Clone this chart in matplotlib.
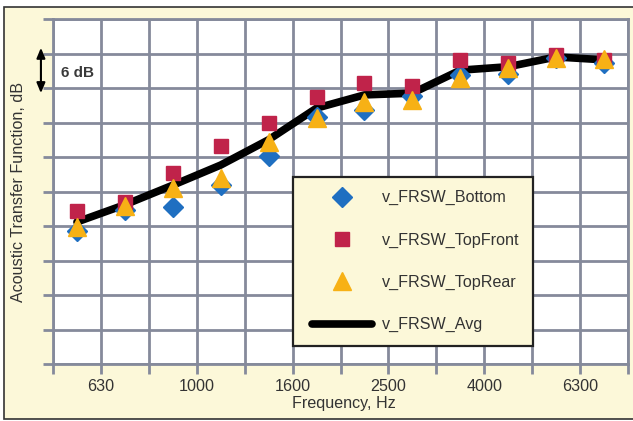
import numpy as np
import matplotlib
matplotlib.use("Agg")
import matplotlib.pyplot as plt
from matplotlib.patches import Rectangle
from matplotlib.lines import Line2D
from matplotlib.legend_handler import HandlerLine2D

# =====================================
# Data (dB, one value per 1/3-octave band)
# =====================================

band_labels = ["630", "1000", "1600", "2500", "4000", "6300"]

frsw_bottom = [23.1, 26.8, 27.3, 31.1, 36.2, 43.0, 44.2, 46.6, 50.3, 50.4, 53.2, 52.3]
frsw_topfront = [26.6, 28.2, 33.2, 37.9, 41.9, 46.4, 48.9, 48.3, 52.9, 52.3, 53.7, 52.9]
frsw_toprear = [23.8, 27.5, 30.6, 32.3, 38.6, 42.8, 45.6, 45.9, 49.7, 51.5, 53.2, 53.0]
frsw_avg = [24.7, 27.7, 31.1, 34.6, 39.0, 44.5, 46.8, 47.1, 51.1, 51.7, 53.4, 52.9]

# =====================================
# Figure
# =====================================

plt.rcParams["font.family"] = ["Liberation Sans", "DejaVu Sans"]

W, H = 633, 421
fig = plt.figure(figsize=(W / 100, H / 100), dpi=100, facecolor="white")

# pale yellow panel with a thin border, kept behind the axes
panel = Rectangle((4 / W, 2 / H), 640 / W, (419 - 7) / H,
                  transform=fig.transFigure, facecolor="#fcf8d9",
                  edgecolor="#333333", linewidth=1.2, zorder=-10)
fig.add_artist(panel)

ax = fig.add_axes([53 / W, (H - 364) / H, 575 / W, 345 / H])
ax.set_facecolor("white")

grid_color = "#858a9b"
text_color = "#333333"
fs = 11.6

x = np.arange(len(frsw_avg)) + 0.5

ax.plot(x, frsw_avg, color="black", linewidth=5.5, solid_capstyle="round",
        solid_joinstyle="round", zorder=3, label="v_FRSW_Avg")
ax.plot(x, frsw_bottom, linestyle="none", marker="D", markersize=10,
        color="#1f6fc1", zorder=4, label="v_FRSW_Bottom")
ax.plot(x, frsw_topfront, linestyle="none", marker="s", markersize=10,
        color="#c0234a", zorder=4, label="v_FRSW_TopFront")
ax.plot(x, frsw_toprear, linestyle="none", marker="^", markersize=13.5,
        color="#f7b115", zorder=5, label="v_FRSW_TopRear")

# =====================================
# Axes, grid, ticks
# =====================================

ax.set_xlim(0, 12)
ax.set_ylim(0, 60)

xtick_labels = []
for i in range(13):
    if i % 2 == 1:
        xtick_labels.append(band_labels[i // 2])
    else:
        xtick_labels.append("")
ax.set_xticks(range(13))
ax.set_xticklabels(xtick_labels)
ax.set_yticks(np.arange(0, 61, 6))
ax.set_yticklabels([])

ax.grid(True, color=grid_color, linewidth=2, zorder=1)
ax.set_axisbelow(True)
for s in ax.spines.values():
    s.set_color(grid_color)
    s.set_linewidth(2)

ax.tick_params(axis="both", direction="out", length=7, width=2,
               color=grid_color, labelsize=fs, labelcolor=text_color, pad=3.5)

ax.set_xlabel("Frequency, Hz", fontsize=fs, color=text_color)
ax.xaxis.set_label_coords(0.505, -0.092)
ax.set_ylabel("Acoustic Transfer Function, dB", fontsize=fs, color=text_color)
ax.yaxis.set_label_coords(-0.047, 0.5)

# =====================================
# 6 dB scale marker
# =====================================

ax.annotate("", xy=(-0.021, 55.0), xytext=(-0.021, 47.1),
            xycoords=("axes fraction", "data"),
            textcoords=("axes fraction", "data"),
            arrowprops=dict(arrowstyle="<|-|>,head_length=0.6,head_width=0.25",
                            color="black", linewidth=1.5, shrinkA=0, shrinkB=0),
            annotation_clip=False)
ax.text(0.17, 50.6, "6 dB", fontsize=11, color="#3a3a3a", fontweight="bold",
        ha="left", va="center")

# =====================================
# Legend
# =====================================

handles, labels = ax.get_legend_handles_labels()
order = [1, 2, 3, 0]
leg = ax.legend([handles[i] for i in order], [labels[i] for i in order],
                loc="upper left",
                bbox_to_anchor=((293 - 53) / 575, (364 - 345) / 345,
                                240 / 575, 168 / 345),
                borderaxespad=0, fontsize=fs, numpoints=1,
                handlelength=4.1, handletextpad=0.62, labelspacing=1.69,
                borderpad=0.82, fancybox=False,
                handler_map={Line2D: HandlerLine2D(xpad=0.37)},
                framealpha=1, facecolor="#fcf8d9", edgecolor="#222222")
leg.get_frame().set_linewidth(1.6)
for t in leg.get_texts():
    t.set_color(text_color)

fig.savefig("out.png", dpi=100, facecolor=fig.get_facecolor())
